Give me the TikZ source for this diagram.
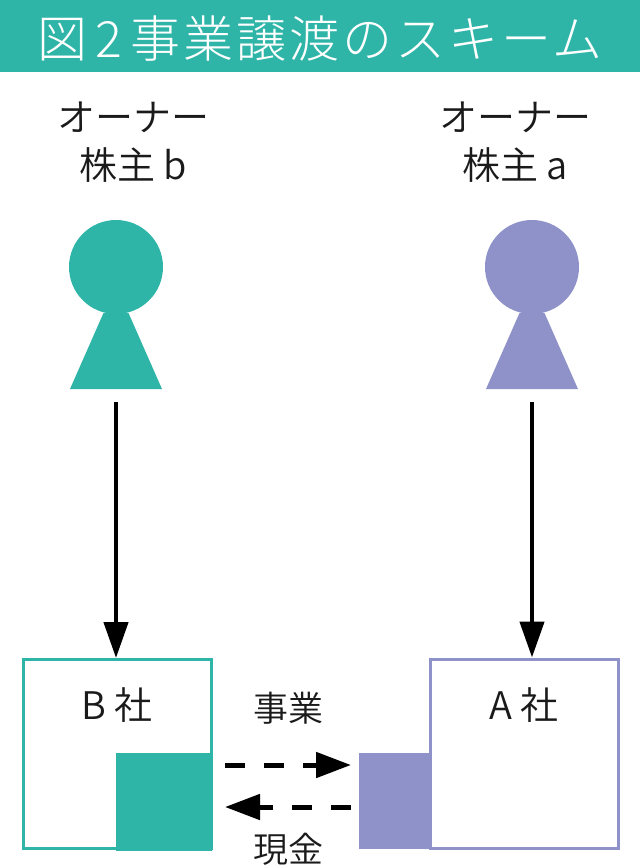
\documentclass[tikz,border=0pt]{standalone}
\usepackage{fontspec}
\usetikzlibrary{arrows.meta}
\newfontfamily\cjk{Noto Sans CJK JP DemiLight}
\newfontfamily\cjktitle[LetterSpace=6]{Noto Sans CJK JP Light}
\definecolor{c_green}{HTML}{2EB5A8}
\definecolor{c_purple}{HTML}{8E92C8}
\definecolor{c_ink}{HTML}{1A1A1A}

\begin{document}
\begin{tikzpicture}[x=1pt,y=-1pt]
    % Styling
    \tikzset{
        c_text/.style={font=\cjk\fontsize{38}{48}\selectfont, text=c_ink, align=center, inner sep=0pt},
        c_small/.style={font=\cjk\fontsize{35}{42}\selectfont, text=c_ink, inner sep=0pt},
        c_title/.style={font=\cjktitle\fontsize{50}{50}\selectfont, text=white, inner sep=0pt},
        c_head/.style={circle, minimum size=94pt, inner sep=0pt},
        c_box/.style={draw, line width=3pt, fill=white, inner sep=0pt, minimum width=188pt, minimum height=189pt},
        c_part/.style={inner sep=0pt},
        c_hold/.style={line width=4.5pt, color=black, -{Triangle[length=36pt,width=24pt]}},
        c_flow/.style={line width=5pt, color=black, dash pattern=on 20pt off 19pt, -{Triangle[length=35pt,width=25pt]}}
    }
    \useasboundingbox (0,0) rectangle (640,865);

    % Title band
    \fill[c_green] (0,0) rectangle (640,72);
    \node[c_title] (title) at (320,39) {図\hspace{8pt}2\hspace{8pt}事業譲渡のスキーム};

    % Owners
    \node[c_text] (owner_b) at (133,142) {オーナー\\株主 b};
    \node[c_text] (owner_a) at (515,142) {オーナー\\株主 a};
    \foreach \n/\x/\c in {b/116/c_green, a/532/c_purple} {
        \fill[\c] (\x-12.5,313) -- (\x-46,389) -- (\x+46,389) -- (\x+12.5,313) -- cycle;
        \node[c_head, fill=\c] (head_\n) at (\x,267) {};
        \coordinate (foot_\n) at (\x,402);
    }

    % Companies
    \node[c_box, draw=c_green] (co_b) at (117,754) {};
    \node[c_box, draw=c_purple] (co_a) at (524.5,753.5) {};
    \node[c_part, fill=c_green, minimum width=96pt, minimum height=98pt] (part_b) at (164,802) {};
    \node[c_part, fill=c_purple, minimum width=71pt, minimum height=96pt] (part_a) at (394.5,801) {};
    \node[c_text] (name_b) at (117,705) {B 社};
    \node[c_text] (name_a) at (524,705) {A 社};

    % Ownership arrows
    \draw[c_hold] (foot_b) -- (foot_b |- co_b.north);
    \draw[c_hold] (foot_a) -- (foot_a |- co_a.north);

    % Transfer arrows
    \coordinate (out_b) at (225,765);
    \coordinate (in_a) at (351,765);
    \coordinate (out_a) at (351,807);
    \coordinate (in_b) at (225,807);
    \draw[c_flow] (out_b) -- (in_a);
    \draw[c_flow] (out_a) -- (in_b);

    % Labels
    \node[c_small] (label_up) at (288,708) {事業};
    \node[c_small] (label_down) at (288,849) {現金};
\end{tikzpicture}
\end{document}
